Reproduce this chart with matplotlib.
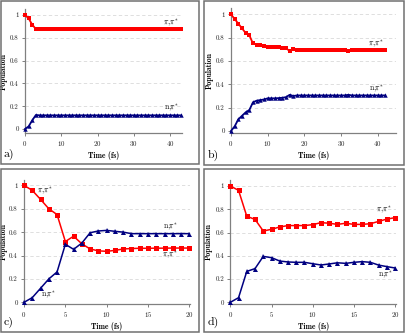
import matplotlib
matplotlib.use("Agg")
import matplotlib.pyplot as plt
from matplotlib.patches import Rectangle
from matplotlib.ticker import FuncFormatter

plt.rcParams['mathtext.fontset'] = 'cm'
plt.rcParams['axes.formatter.use_mathtext'] = True

# ---------------- data ----------------
time_a = list(range(0, 44))
pipi_a = [1.00, 0.97, 0.915, 0.877] + [0.877] * 40
npi_a = [0.00, 0.023, 0.076, 0.123] + [0.12] * 40

time_b = list(range(0, 43))
pipi_b = [1.00, 0.96, 0.92, 0.88, 0.84, 0.82, 0.75, 0.74, 0.735, 0.73, 0.72,
          0.72, 0.72, 0.72, 0.715, 0.71, 0.685, 0.70, 0.695, 0.69, 0.69,
          0.69, 0.69, 0.69, 0.69, 0.69, 0.69, 0.69, 0.69, 0.69, 0.69,
          0.69, 0.685, 0.69, 0.69, 0.69, 0.69, 0.69, 0.69, 0.69, 0.69,
          0.69, 0.69]
npi_b = [0.00, 0.04, 0.10, 0.13, 0.16, 0.18, 0.246, 0.26, 0.265, 0.27, 0.28,
         0.28, 0.28, 0.282, 0.285, 0.29, 0.31, 0.30, 0.305, 0.305, 0.305,
         0.305, 0.305, 0.305, 0.305, 0.305, 0.305, 0.305, 0.305, 0.305, 0.305,
         0.305, 0.31, 0.305, 0.305, 0.305, 0.305, 0.305, 0.305, 0.305, 0.305,
         0.305, 0.305]

time_cd = list(range(0, 21))
pipi_c = [1.00, 0.957, 0.88, 0.80, 0.75, 0.52, 0.565, 0.50, 0.456, 0.44, 0.436,
          0.444, 0.456, 0.46, 0.462, 0.462, 0.463, 0.463, 0.464, 0.464, 0.464]
npi_c = [0.00, 0.04, 0.12, 0.20, 0.26, 0.496, 0.453, 0.507, 0.595, 0.61, 0.615,
         0.607, 0.60, 0.587, 0.587, 0.587, 0.587, 0.587, 0.587, 0.587, 0.587]

pipi_d = [1.00, 0.963, 0.74, 0.713, 0.613, 0.628, 0.648, 0.66, 0.66, 0.66, 0.668,
          0.685, 0.68, 0.67, 0.68, 0.67, 0.67, 0.676, 0.696, 0.716, 0.728]
npi_d = [0.00, 0.04, 0.266, 0.29, 0.395, 0.384, 0.355, 0.347, 0.344, 0.344, 0.332,
         0.321, 0.33, 0.34, 0.335, 0.344, 0.35, 0.344, 0.32, 0.307, 0.295]

y_ticks = [0, 0.2, 0.4, 0.6, 0.8, 1]
x_ticks_ab = [0, 10, 20, 30, 40]
x_ticks_cd = [0, 5, 10, 15, 20]

RED = '#ff0000'
BLUE = '#000080'
GRAY = '#808080'

W, H = 407, 334
fig = plt.figure(figsize=(W / 100, H / 100), dpi=100)
fig.patch.set_facecolor('white')


def ax_px(left, right, top, bottom):
    return fig.add_axes([left / W, 1 - bottom / H, (right - left) / W, (bottom - top) / H])


def style(ax, xlim, ylim, xticks, ylabelpad=2):
    ax.set_xlim(*xlim)
    ax.set_ylim(*ylim)
    ax.set_xticks(xticks)
    ax.set_yticks(y_ticks)
    ax.yaxis.set_major_formatter(FuncFormatter(lambda v, p: ('%g' % v)))
    for s in ['top', 'right']:
        ax.spines[s].set_visible(False)
    for s in ['left', 'bottom']:
        ax.spines[s].set_color(GRAY)
        ax.spines[s].set_linewidth(0.9)
    ax.tick_params(axis='both', colors=GRAY, length=2.5, width=0.7, direction='out',
                   labelsize=5, labelcolor='#222222', pad=2)
    for lab in ax.get_xticklabels() + ax.get_yticklabels():
        lab.set_family('cmr10')
    for y in y_ticks[1:]:
        ax.axhline(y, color='#d9d9d9', lw=0.6, ls=(0, (4, 3)), zorder=0)
    ax.set_xlabel('Time (fs)', family='cmb10', fontsize=5.5, labelpad=2)
    ax.set_ylabel('Population', family='cmb10', fontsize=5.5, labelpad=ylabelpad)


def draw(ax, t, pp, npi, ms, lw):
    ax.plot(t, pp, color=RED, marker='s', ms=ms, lw=lw, mew=0, clip_on=False, zorder=3)
    ax.plot(t, npi, color=BLUE, marker='^', ms=ms, lw=lw, mew=0, clip_on=False, zorder=3)


PIPI = r'$\pi,\!\pi^{*}$'
NPI = r'n,$\!\pi^{*}$'

# panel a
axa = ax_px(25, 182, 9.3, 133)
draw(axa, time_a, pipi_a, npi_a, 3.2, 1.3)
style(axa, (0, 43.3), (-0.035, 1.05), x_ticks_ab, 1.5)
axa.text(40.2, 0.93, PIPI, fontsize=5.5, family='cmr10', ha='center', va='center')
axa.text(40.2, 0.185, NPI, fontsize=5.5, family='cmr10', ha='center', va='center')

# panel b
axb = ax_px(231, 396, 8.5, 132.5)
draw(axb, time_b, pipi_b, npi_b, 3.2, 1.3)
style(axb, (0, 45), (-0.013, 1.05), x_ticks_ab, 2)
axb.text(39.6, 0.74, PIPI, fontsize=5.5, family='cmr10', ha='center', va='center')
axb.text(39.6, 0.36, NPI, fontsize=5.5, family='cmr10', ha='center', va='center')

# panel c
axc = ax_px(24, 190.2, 179.5, 303.5)
draw(axc, time_cd, pipi_c, npi_c, 3.6, 1.1)
style(axc, (0, 20.1), (-0.01, 1.05), x_ticks_cd, 0.8)
axc.text(2.5, 0.95, PIPI, fontsize=5.5, family='cmr10', ha='center', va='center')
axc.text(2.9, 0.06, NPI, fontsize=5.5, family='cmr10', ha='center', va='center')
axc.text(17.7, 0.64, NPI, fontsize=5.5, family='cmr10', ha='center', va='center')
axc.text(17.7, 0.40, PIPI, fontsize=5.5, family='cmr10', ha='center', va='center')

# panel d
axd = ax_px(230.3, 396, 180.2, 303.5)
draw(axd, time_cd, pipi_d, npi_d, 3.6, 1.1)
style(axd, (0, 20.1), (-0.01, 1.05), x_ticks_cd, 2)
axd.text(18.6, 0.79, PIPI, fontsize=5.5, family='cmr10', ha='center', va='center')
axd.text(18.8, 0.23, NPI, fontsize=5.5, family='cmr10', ha='center', va='center')

# panel borders and letters
for (x0, y0, x1, y1), letter in zip(
        [(1, 1, 199, 164), (204.5, 1, 404.5, 165), (1, 168.5, 199, 332), (204.5, 168.5, 404.5, 332)],
        ['a)', 'b)', 'c)', 'd)']):
    fig.add_artist(Rectangle((x0 / W, 1 - y1 / H), (x1 - x0) / W, (y1 - y0) / H,
                             transform=fig.transFigure, fill=False, ec='#707070', lw=1.1))
    fig.text((x0 + 3) / W, 1 - (y1 - 10) / H, letter, family='cmr10', fontsize=8.5,
             ha='left', va='center')

fig.savefig('out.png', dpi=100, facecolor='white')
